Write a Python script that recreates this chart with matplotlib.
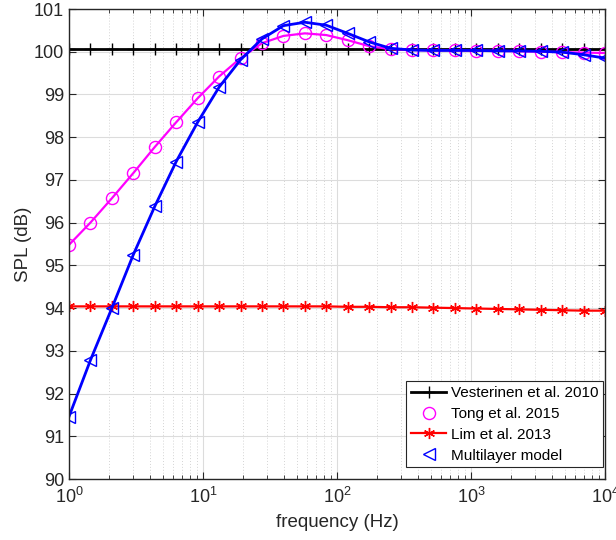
import numpy as np
import matplotlib
matplotlib.use("Agg")
import matplotlib.pyplot as plt
from matplotlib.ticker import LogLocator, NullFormatter, MultipleLocator

plt.rcParams['font.family'] = ['Liberation Sans', 'DejaVu Sans']

# frequency sample points (Hz): 26 log-spaced points, 1 Hz .. 10 kHz
freq = [1.0, 1.445, 2.089, 3.020, 4.365, 6.310, 9.120, 13.18, 19.05, 27.54,
        39.81, 57.54, 83.18, 120.2, 173.8, 251.2, 363.1, 524.8, 758.6, 1096.5,
        1584.9, 2290.9, 3311.3, 4786.3, 6918.3, 10000.0]

vesterinen = [100.07] * 26

tong = [95.48, 96.00, 96.57, 97.16, 97.77, 98.35, 98.91, 99.42, 99.85, 100.20,
        100.37, 100.43, 100.39, 100.27, 100.13, 100.06, 100.04, 100.03, 100.03, 100.02,
        100.02, 100.01, 100.00, 99.99, 99.98, 99.97]

lim = [94.04, 94.04, 94.04, 94.04, 94.04, 94.04, 94.04, 94.04, 94.04, 94.04,
       94.04, 94.04, 94.04, 94.03, 94.03, 94.02, 94.02, 94.01, 94.00, 93.99,
       93.98, 93.97, 93.96, 93.95, 93.94, 93.94]

multilayer = [91.46, 92.78, 94.00, 95.25, 96.38, 97.43, 98.35, 99.17, 99.81, 100.30,
              100.61, 100.69, 100.62, 100.43, 100.23, 100.08, 100.04, 100.03, 100.03, 100.03,
              100.02, 100.02, 100.01, 99.99, 99.93, 99.85]

labels = ['Vesterinen et al. 2010', 'Tong et al. 2015', 'Lim et al. 2013', 'Multilayer model']

fig = plt.figure(figsize=(6.16, 5.4), dpi=100)
ax = fig.add_axes([69/616, 1 - 479/540, 536/616, 470/540])

axcol = '#262626'
ax.plot(freq, vesterinen, color='k', lw=2.0, marker='+', ms=9, mew=1.0, label=labels[0])
ax.plot(freq, tong, color='#ff00ff', lw=1.6, label='_nolegend_')
ax.plot(freq, tong, ls='none', marker='o', ms=8.7, mfc='none', mec='#ff00ff', mew=1.0, label=labels[1])
ax.plot(freq, lim, color='#ff0000', lw=1.6, marker=(6, 2, 0), ms=8, mew=1.0, label=labels[2])
ax.plot(freq, multilayer, color='#0000ff', lw=2.0, label='_nolegend_')
ax.plot(freq, multilayer, ls='none', marker='<', ms=9, mfc='none', mec='#0000ff', mew=1.0, label=labels[3])

ax.set_xscale('log')
ax.set_xlim(1, 1e4)
ax.set_ylim(90, 101)
ax.yaxis.set_major_locator(MultipleLocator(1))
ax.xaxis.set_major_locator(LogLocator(base=10, numticks=10))
ax.xaxis.set_minor_locator(LogLocator(base=10, subs=np.arange(2, 10), numticks=100))
ax.xaxis.set_minor_formatter(NullFormatter())

ax.grid(True, which='major', color='#dcdcdc', lw=0.8, ls='-')
ax.grid(True, which='minor', axis='x', color='#d4d4d4', lw=0.7, ls=(0, (1, 2)))
ax.set_axisbelow(True)

ax.tick_params(which='both', direction='in', top=True, right=True, colors=axcol, labelsize=13)
ax.tick_params(which='major', length=5, width=0.8)
ax.tick_params(which='minor', length=3, width=0.6)
ax.tick_params(axis='x', which='major', pad=6)
for s in ax.spines.values():
    s.set_color(axcol)
    s.set_linewidth(1.0)

ax.set_xlabel('frequency (Hz)', fontsize=13.5, color=axcol, labelpad=5)
ax.set_ylabel('SPL (dB)', fontsize=13.5, color=axcol, labelpad=1)

leg = ax.legend(loc='lower right', bbox_to_anchor=(0.996, 0.025), fontsize=11,
                frameon=True, fancybox=False, edgecolor=axcol, framealpha=1,
                borderaxespad=0.0, handlelength=2.3, handletextpad=0.3,
                labelspacing=0.45, borderpad=0.3)
leg.get_frame().set_linewidth(0.8)

fig.savefig('out.png', dpi=100)
